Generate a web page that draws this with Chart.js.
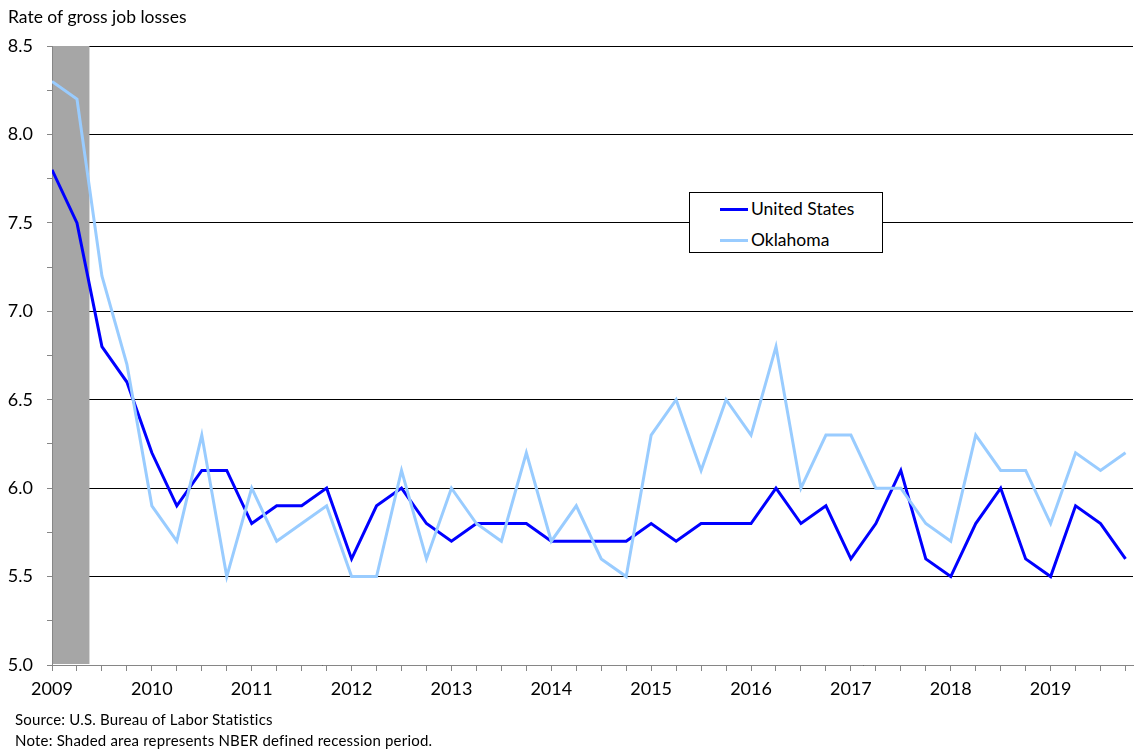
<!DOCTYPE html>
<html lang="en">
<head>
    <meta charset="UTF-8">
    <title>Rate of gross job losses</title>
    <style>
        body {
            margin: 0;
            padding: 0;
            background: #fff;
            font-family: Lato, "Open Sans", sans-serif;
            color: #000;
        }
        #wrap {
            position: relative;
            width: 1134px;
            height: 751px;
        }
        #chart {
            position: absolute;
            left: 0;
            top: 0;
        }
        .axis-title {
            position: absolute;
            left: 8px;
            top: 6px;
            font-size: 17.5px;
            line-height: 22px;
        }
        .note {
            position: absolute;
            left: 15px;
            font-size: 15px;
            line-height: 18px;
            letter-spacing: 0.2px;
        }
        #legend {
            position: absolute;
            left: 689px;
            top: 192px;
            width: 192px;
            height: 59px;
            border: 1px solid #000;
            background: #fff;
        }
        .legend-row {
            position: absolute;
            left: 0;
            height: 20px;
            line-height: 20px;
            font-size: 17.5px;
        }
        .legend-line {
            position: absolute;
            left: 30px;
            top: 9px;
            width: 28px;
            height: 3px;
        }
        .legend-text {
            position: absolute;
            left: 61px;
            white-space: nowrap;
        }
    </style>
</head>
<body>
<div id="wrap">
    <canvas id="chart" width="1134" height="751"></canvas>
    <div class="axis-title">Rate of gross job losses</div>
    <div id="legend"></div>
    <div class="note" style="top:710px;">Source: U.S. Bureau of Labor Statistics</div>
    <div class="note" style="top:731px;">Note: Shaded area represents NBER defined recession period.</div>
</div>

<script src="https://cdn.jsdelivr.net/npm/chart.js"></script>
<script>
    // years shown on the axis, one label per first quarter
    const years = ['2009', '2010', '2011', '2012', '2013', '2014', '2015', '2016', '2017', '2018', '2019'];

    // quarterly rates, 2009 Q1 .. 2019 Q4
    const usRate = [
        7.8, 7.5, 6.8, 6.6,
        6.2, 5.9, 6.1, 6.1,
        5.8, 5.9, 5.9, 6.0,
        5.6, 5.9, 6.0, 5.8,
        5.7, 5.8, 5.8, 5.8,
        5.7, 5.7, 5.7, 5.7,
        5.8, 5.7, 5.8, 5.8,
        5.8, 6.0, 5.8, 5.9,
        5.6, 5.8, 6.1, 5.6,
        5.5, 5.8, 6.0, 5.6,
        5.5, 5.9, 5.8, 5.6
    ];
    const okRate = [
        8.3, 8.2, 7.2, 6.7,
        5.9, 5.7, 6.3, 5.5,
        6.0, 5.7, 5.8, 5.9,
        5.5, 5.5, 6.1, 5.6,
        6.0, 5.8, 5.7, 6.2,
        5.7, 5.9, 5.6, 5.5,
        6.3, 6.5, 6.1, 6.5,
        6.3, 6.8, 6.0, 6.3,
        6.3, 6.0, 6.0, 5.8,
        5.7, 6.3, 6.1, 6.1,
        5.8, 6.2, 6.1, 6.2
    ];

    const quarters = [];
    years.forEach(y => { ['Q1', 'Q2', 'Q3', 'Q4'].forEach(q => quarters.push(y + ' ' + q)); });

    // recession shading, in quarter index units
    const recessionStart = 0;
    const recessionEnd = 1.5;

    const fontFamily = 'Lato, "Open Sans", sans-serif';

    const recessionShade = {
        id: 'recessionShade',
        beforeDatasetsDraw(chart) {
            const { ctx, chartArea, scales } = chart;
            const x0 = scales.x.getPixelForValue(recessionStart) + 1;
            const x1 = scales.x.getPixelForValue(recessionEnd);
            ctx.save();
            ctx.fillStyle = '#A6A6A6';
            ctx.fillRect(x0, chartArea.top, x1 - x0, chartArea.bottom - chartArea.top - 1);
            ctx.restore();
        }
    };

    const datasets = [
        {
            label: 'United States',
            data: usRate.map((v, i) => ({ x: i, y: v })),
            borderColor: '#0000FF',
            backgroundColor: '#0000FF',
            order: 1
        },
        {
            label: 'Oklahoma',
            data: okRate.map((v, i) => ({ x: i, y: v })),
            borderColor: '#99CCFF',
            backgroundColor: '#99CCFF',
            order: 0
        }
    ];

    const isMajor = v => Math.round(v * 100) % 50 === 0;

    new Chart(document.getElementById('chart').getContext('2d'), {
        type: 'line',
        data: { labels: quarters, datasets: datasets },
        options: {
            responsive: false,
            animation: false,
            layout: { padding: { top: 46, right: 1, bottom: 46, left: 0 } },
            elements: {
                point: { radius: 0 },
                line: { tension: 0, borderWidth: 3 }
            },
            plugins: {
                legend: { display: false },
                tooltip: { enabled: false }
            },
            scales: {
                x: {
                    type: 'linear',
                    min: 0,
                    max: 43.3,
                    afterFit: s => { s.height = 40; },
                    grid: { drawOnChartArea: false, tickLength: 6, color: '#868686' },
                    border: { color: '#868686' },
                    ticks: {
                        stepSize: 1,
                        includeBounds: false,
                        autoSkip: false,
                        maxRotation: 0,
                        padding: 7,
                        color: '#000',
                        font: { size: 18, family: fontFamily },
                        callback: v => (v % 4 === 0 ? years[v / 4] : '')
                    }
                },
                y: {
                    min: 5,
                    max: 8.5,
                    afterFit: s => { s.width = 52; },
                    grid: {
                        color: c => (c.tick && isMajor(c.tick.value) ? '#000' : 'rgba(0,0,0,0)'),
                        tickColor: '#868686',
                        tickLength: 5
                    },
                    border: { color: '#868686' },
                    ticks: {
                        stepSize: 0.25,
                        autoSkip: false,
                        padding: 14,
                        color: '#000',
                        font: { size: 18, family: fontFamily },
                        callback: v => (isMajor(v) ? v.toFixed(1) : '')
                    }
                }
            }
        },
        plugins: [recessionShade]
    });

    // legend box, built from the datasets
    const legend = document.getElementById('legend');
    datasets.forEach((d, i) => {
        const row = document.createElement('div');
        row.className = 'legend-row';
        row.style.top = (6 + i * 31) + 'px';
        row.innerHTML = '<span class="legend-line" style="background:' + d.borderColor + '"></span>' +
            '<span class="legend-text">' + d.label + '</span>';
        legend.appendChild(row);
    });
</script>
</body>
</html>
